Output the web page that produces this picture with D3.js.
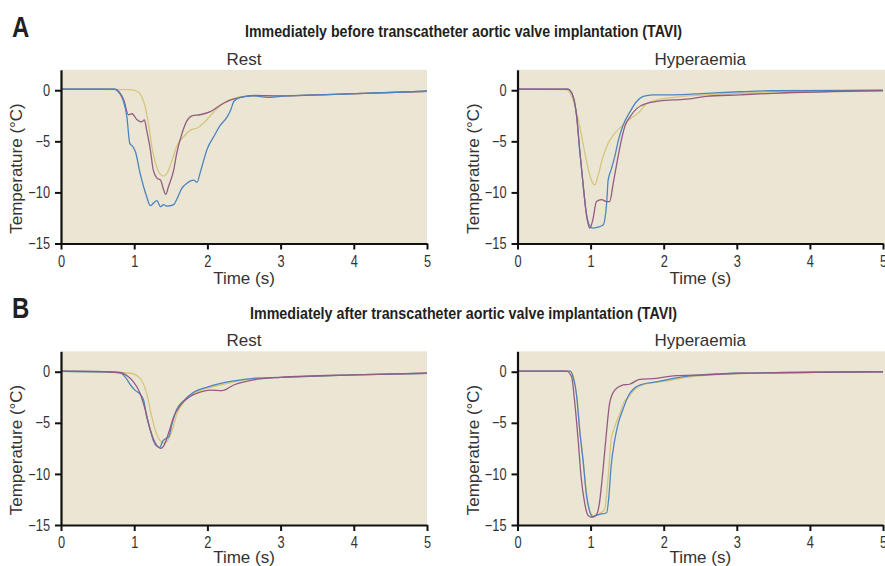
<!DOCTYPE html>
<html>
<head>
<meta charset="utf-8">
<script src="https://cdn.jsdelivr.net/npm/d3@7"></script>
<style>
  body { margin: 0; background: #fff; }
  svg { display: block; }
</style>
</head>
<body>
<svg id="chart" width="885" height="566"></svg>
<script>
// time (s), temperature (°C)
var beforeRestBlue = [[0,0.1],[0.72,0.1],[0.8,-0.3],[0.85,-1],[0.9,-2.6],[0.94,-5.2],[0.98,-5.5],[1.02,-6.1],[1.08,-8.1],[1.17,-10.4],[1.22,-11.3],[1.27,-11],[1.31,-10.8],[1.36,-11.4],[1.4,-11.2],[1.45,-11.35],[1.54,-11.2],[1.58,-10.7],[1.65,-9.6],[1.72,-9.1],[1.81,-8.8],[1.86,-9],[1.9,-8.1],[2,-5.7],[2.09,-4.5],[2.18,-3.4],[2.27,-2.6],[2.32,-1.9],[2.36,-1.1],[2.45,-0.7],[2.63,-0.55],[2.82,-0.7],[3,-0.6],[3.73,-0.4],[5,-0.1]];
var beforeRestPurple = [[0,0.1],[0.74,0.1],[0.8,-0.2],[0.86,-1],[0.92,-2.4],[0.97,-2.3],[1.04,-2.9],[1.1,-3.1],[1.14,-2.9],[1.17,-3.9],[1.22,-5.8],[1.26,-7.8],[1.31,-8.6],[1.36,-8.8],[1.4,-9.7],[1.43,-10.2],[1.47,-9.4],[1.54,-7.8],[1.58,-6.2],[1.65,-4.3],[1.72,-3],[1.79,-2.5],[1.9,-2.4],[2.04,-2.1],[2.18,-1.45],[2.32,-0.95],[2.45,-0.7],[2.63,-0.5],[3,-0.55],[3.73,-0.4],[5,-0.1]];
var beforeRestYellow = [[0,0.1],[0.95,0.05],[1.04,-0.1],[1.1,-0.6],[1.15,-1.6],[1.2,-3.5],[1.24,-5.5],[1.29,-7.1],[1.33,-7.9],[1.4,-8.4],[1.45,-8.1],[1.52,-6.8],[1.58,-5.5],[1.68,-4.5],[1.77,-3.9],[1.86,-3.7],[1.95,-3.2],[2.09,-2.1],[2.23,-1.2],[2.36,-0.8],[2.5,-0.6],[3,-0.55],[3.73,-0.4],[5,-0.1]];

var beforeHypBlue = [[0,0.1],[0.69,0.1],[0.76,-0.6],[0.81,-2.6],[0.85,-5.8],[0.9,-9.4],[0.94,-12],[0.99,-13.3],[1.03,-13.5],[1.1,-13.4],[1.17,-13.2],[1.22,-11],[1.24,-8.8],[1.28,-7.8],[1.33,-6.5],[1.38,-4.9],[1.44,-3.5],[1.54,-2.1],[1.63,-1.1],[1.72,-0.6],[1.85,-0.45],[2.13,-0.45],[2.58,-0.3],[3.04,-0.15],[3.49,-0.05],[5,0]];
var beforeHypPurple = [[0,0.1],[0.69,0.1],[0.76,-0.6],[0.81,-2.6],[0.85,-5.8],[0.9,-9.4],[0.94,-12],[0.99,-13.5],[1.03,-12.7],[1.08,-10.9],[1.15,-10.7],[1.22,-10.9],[1.26,-10.9],[1.31,-9.1],[1.35,-7.5],[1.42,-4.9],[1.47,-3.5],[1.54,-2.6],[1.63,-1.8],[1.76,-1.3],[1.9,-1.1],[2.13,-0.95],[2.36,-0.85],[2.58,-0.6],[3.04,-0.45],[3.49,-0.3],[5,-0.05]];
var beforeHypYellow = [[0,0.1],[0.67,0.05],[0.76,-0.95],[0.85,-3.5],[0.94,-6.8],[1.01,-8.8],[1.06,-9.25],[1.1,-8.4],[1.17,-6.5],[1.24,-5.2],[1.31,-4.4],[1.4,-3.7],[1.49,-3.1],[1.58,-2.6],[1.67,-2.1],[1.76,-1.35],[1.9,-0.95],[2.13,-0.7],[2.58,-0.45],[3.04,-0.3],[3.49,-0.15],[5,0]];

var afterRestBlue = [[0,0.05],[0.6,0],[0.81,-0.1],[0.88,-0.55],[0.95,-1.3],[1.01,-1.8],[1.08,-2.2],[1.13,-2.8],[1.17,-4.4],[1.22,-5.7],[1.26,-6.7],[1.31,-7.3],[1.35,-7.4],[1.39,-6.8],[1.44,-6.5],[1.47,-6.4],[1.52,-5],[1.58,-3.7],[1.68,-2.8],[1.81,-2],[2,-1.5],[2.18,-1.15],[2.36,-0.9],[2.63,-0.65],[3,-0.55],[4,-0.3],[5,-0.15]];
var afterRestPurple = [[0,0.05],[0.6,0],[0.82,-0.1],[0.92,-0.5],[0.99,-1],[1.08,-2.1],[1.15,-3.7],[1.22,-5.7],[1.29,-7],[1.36,-7.5],[1.4,-7.3],[1.47,-6],[1.54,-4.4],[1.63,-3.3],[1.77,-2.4],[1.9,-2],[2.04,-1.8],[2.2,-1.85],[2.36,-1.3],[2.63,-0.8],[3,-0.55],[4,-0.3],[5,-0.15]];
var afterRestYellow = [[0,0.05],[0.6,0],[0.95,-0.15],[1.08,-0.65],[1.17,-2.1],[1.24,-4.4],[1.3,-6],[1.36,-6.8],[1.4,-7],[1.45,-6.8],[1.52,-5.7],[1.58,-4.2],[1.68,-2.9],[1.81,-2.1],[2,-1.6],[2.27,-1.15],[2.63,-0.65],[3,-0.55],[4,-0.3],[5,-0.15]];

var afterHypPurple = [[0,0.05],[0.67,0.05],[0.74,-0.5],[0.78,-2.8],[0.83,-6.7],[0.87,-10.3],[0.92,-12.9],[0.96,-14],[1.01,-14.25],[1.08,-14],[1.12,-12.9],[1.17,-9.6],[1.22,-5.7],[1.26,-3.1],[1.33,-1.8],[1.42,-1.35],[1.54,-1.2],[1.67,-0.75],[1.9,-0.65],[2.13,-0.4],[2.58,-0.3],[3.04,-0.15],[5,0]];
var afterHypBlue = [[0,0.05],[0.72,0.05],[0.76,-0.5],[0.81,-2.4],[0.85,-5.7],[0.9,-8.9],[0.94,-11.9],[0.99,-13.7],[1.03,-14.2],[1.1,-14],[1.22,-13.8],[1.25,-12.2],[1.28,-9.3],[1.33,-6.7],[1.38,-5],[1.44,-3.75],[1.51,-2.45],[1.6,-1.6],[1.72,-1.2],[1.9,-1],[2.13,-0.65],[2.36,-0.4],[3,-0.15],[5,0]];
var afterHypYellow = [[0,0.05],[0.72,0.05],[0.77,-0.6],[0.82,-3],[0.86,-6.2],[0.91,-9.5],[0.95,-12.2],[1,-13.9],[1.05,-14.1],[1.12,-13.9],[1.19,-13.5],[1.24,-10.3],[1.28,-6.7],[1.33,-5.4],[1.4,-4.1],[1.47,-2.8],[1.51,-2.6],[1.56,-2.1],[1.63,-1.6],[1.76,-1.2],[1.99,-0.95],[2.36,-0.5],[3,-0.2],[5,0]];

var xTicks = [0, 1, 2, 3, 4, 5];
var yTicks = [0, -5, -10, -15];
var seriesColors = ['#4d84c1', '#955b82', '#d6c57c'];

var rowTitles = [
    'Immediately before transcatheter aortic valve implantation (TAVI)',
    'Immediately after transcatheter aortic valve implantation (TAVI)'
];
var rowLetters = ['A', 'B'];
var panelTitles = ['Rest', 'Hyperaemia'];

var panels = [
    { row: 0, col: 0, series: [beforeRestYellow, beforeRestPurple, beforeRestBlue] },
    { row: 0, col: 1, series: [beforeHypYellow, beforeHypBlue, beforeHypPurple] },
    { row: 1, col: 0, series: [afterRestYellow, afterRestBlue, afterRestPurple] },
    { row: 1, col: 1, series: [afterHypYellow, afterHypBlue, afterHypPurple] }
];
var panelColors = [
    [seriesColors[2], seriesColors[1], seriesColors[0]],
    [seriesColors[2], seriesColors[0], seriesColors[1]],
    [seriesColors[2], seriesColors[0], seriesColors[1]],
    [seriesColors[2], seriesColors[0], seriesColors[1]]
];

var svg = d3.select('#chart');

var colX = [[61, 427], [517.5, 883]];
var rowY = [[243.5, 69.8], [525, 351.3]];
var sans = "'Liberation Sans', Arial, sans-serif";
var squeeze = 0.8; // condensed look for ticks, titles

// panel letters and row titles
rowLetters.forEach(function (l, i) {
    var base = i === 0 ? 37 : 318;
    svg.append('text')
        .attr('transform', 'translate(12,' + base + ') scale(0.8,1)')
        .style('font-family', sans).style('font-weight', 'bold')
        .style('font-size', '30px').style('fill', '#231f20')
        .text(l);
    svg.append('text')
        .attr('x', 463.5).attr('y', i === 0 ? 36.5 : 319)
        .attr('text-anchor', 'middle')
        .attr('textLength', i === 0 ? 437 : 427)
        .attr('lengthAdjust', 'spacingAndGlyphs')
        .style('font-family', sans).style('font-weight', 'bold')
        .style('font-size', '16.5px').style('fill', '#231f20')
        .text(rowTitles[i]);
});

panels.forEach(function (p, k) {
    var x = d3.scaleLinear().domain([0, 5]).range(colX[p.col]);
    var y = d3.scaleLinear().domain([-15, 2]).range(rowY[p.row]);
    var g = svg.append('g');
    var clipId = 'clip' + k;

    g.append('clipPath').attr('id', clipId)
        .append('rect')
        .attr('x', x(0)).attr('y', y(2))
        .attr('width', 885 - x(0)).attr('height', y(-15) - y(2));

    g.append('rect')
        .attr('x', x(0)).attr('y', y(2))
        .attr('width', (p.col === 1 ? 885 : x(5)) - x(0))
        .attr('height', y(-15) - y(2))
        .style('fill', '#ebe6d3');

    var line = d3.line()
        .x(function (d) { return x(d[0]); })
        .y(function (d) { return y(d[1]); })
        .curve(d3.curveMonotoneX);

    g.append('g').attr('clip-path', 'url(#' + clipId + ')')
        .selectAll('path')
        .data(p.series)
        .enter()
        .append('path')
        .attr('d', line)
        .attr('fill', 'none')
        .attr('stroke', function (d, i) { return panelColors[k][i]; })
        .attr('stroke-width', 1.3);

    var yAxis = g.append('g')
        .attr('transform', 'translate(' + x(0) + ',0)')
        .call(d3.axisLeft(y).tickValues(yTicks).tickFormat(d3.format('d'))
            .tickSize(6).tickSizeOuter(0).tickPadding(3));
    var xAxis = g.append('g')
        .attr('transform', 'translate(0,' + y(-15) + ')')
        .call(d3.axisBottom(x).tickValues(xTicks).tickFormat(d3.format('d'))
            .tickSize(6).tickSizeOuter(0).tickPadding(6));

    [xAxis, yAxis].forEach(function (a) {
        a.select('.domain').attr('stroke', '#111').attr('stroke-width', 2.2);
        a.selectAll('.tick line').attr('stroke', '#111').attr('stroke-width', 2);
        a.selectAll('.tick text')
            .attr('transform', 'scale(' + squeeze + ',1)')
            .style('font-family', sans).style('font-size', '16px').style('fill', '#333');
    });
    yAxis.selectAll('.tick text').attr('x', -11 / squeeze);

    var cx = (x(0) + x(5)) / 2;
    g.append('text')
        .attr('x', cx).attr('y', y(2) - 5)
        .attr('text-anchor', 'middle')
        .style('font-family', sans).style('font-size', '17px').style('fill', '#333')
        .text(panelTitles[p.col]);

    g.append('text')
        .attr('x', cx).attr('y', y(-15) + (p.row === 0 ? 40 : 38))
        .attr('text-anchor', 'middle')
        .style('font-family', sans).style('font-size', '17px').style('fill', '#333')
        .text('Time (s)');

    g.append('text')
        .attr('transform', 'translate(' + (x(0) - 39) + ',' + (y(-15) - 75) + ') rotate(-90)')
        .attr('text-anchor', 'middle')
        .style('font-family', sans).style('font-size', '17px').style('fill', '#333')
        .text('Temperature (°C)');
});
</script>
</body>
</html>
